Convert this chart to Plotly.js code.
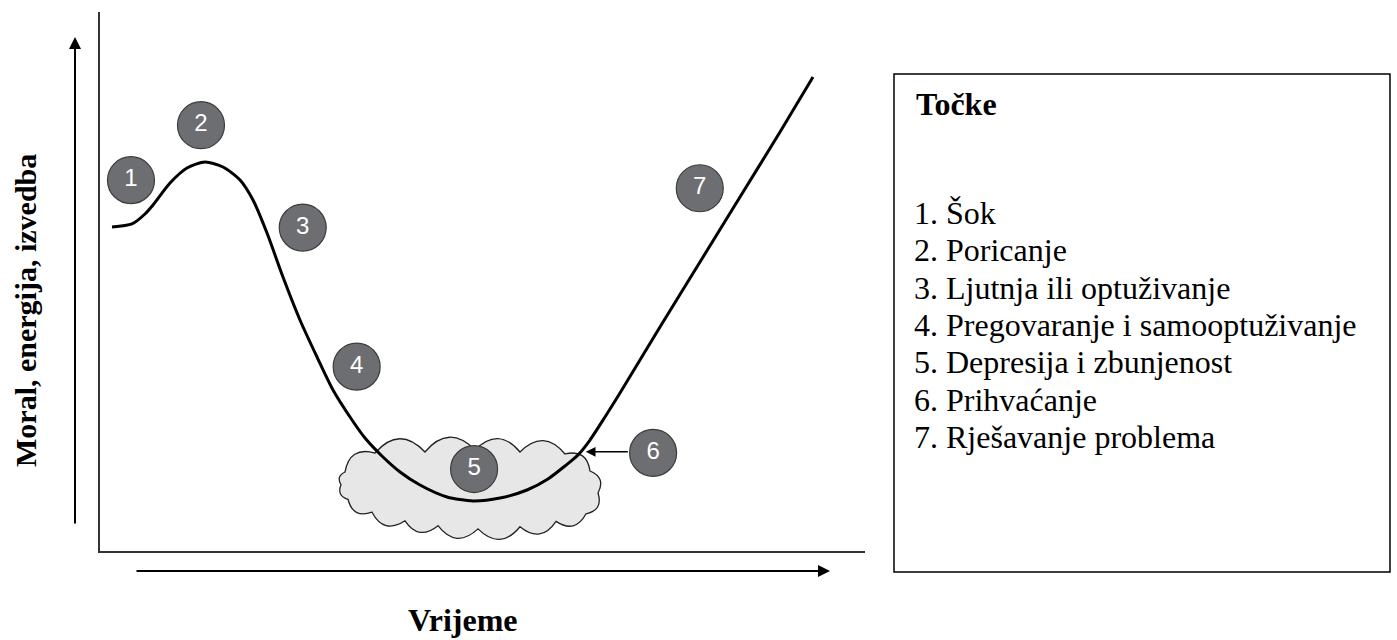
<!DOCTYPE html>
<html>
<head>
<meta charset="utf-8">
<script src="https://cdn.plot.ly/plotly-3.0.1.min.js"></script>
<style>html,body{margin:0;padding:0;background:#fff;}#chart{width:1397px;height:640px;}</style>
</head>
<body>
<div id="chart"></div>
<script>
// ---- Data (time vs. morale, arbitrary units 0-100) ----
const timeX = [1.57, 4.18, 5.88, 6.93, 9.15, 11.37, 13.73, 16.08, 18.30, 20.00, 21.83, 23.92, 26.14, 28.37, 30.46, 32.68, 34.64, 36.99, 39.22, 41.83, 45.36, 48.76, 52.29, 55.82, 58.56, 60.78, 62.48, 64.05, 66.01, 67.97, 73.20, 78.43, 83.66, 88.89, 93.20];
const moraleY = [60.11, 60.67, 62.52, 64.19, 68.27, 71.06, 72.17, 71.24, 68.83, 65.12, 58.99, 50.83, 42.86, 35.99, 29.87, 24.86, 20.96, 17.44, 14.66, 12.24, 10.02, 9.28, 9.83, 11.32, 13.36, 15.77, 17.81, 20.59, 24.86, 29.31, 41.56, 53.62, 65.68, 77.74, 87.94];

const stageLabels = ['1', '2', '3', '4', '5', '6', '7'];
const stageX = [4.05, 13.2, 26.5, 33.55, 48.9, 72.3, 78.4];
const stageY = [68.8, 79.0, 60.0, 34.2, 15.2, 18.2, 67.3];

// arrow from stage 6 marker to the curve
const acceptArrowFrom = [69.2, 18.4];
const acceptArrowTo = [63.5, 18.4];

// cloud outline vertices (around stage 5)
const cloudX = [32.03, 35.95, 42.48, 49.02, 54.90, 60.78, 64.05, 65.10, 63.53, 59.61, 54.90, 49.41, 44.18, 39.87, 35.56, 32.42, 31.50];
const cloudY = [14.66, 18.18, 18.37, 18.74, 18.37, 18.00, 14.84, 10.75, 6.9, 5.5, 4.5, 4.1, 4.7, 5.6, 7.2, 9.6, 12.3];

const xTitle = 'Vrijeme';
const yTitle = 'Moral, energija, izvedba';
const legendTitle = 'Točke';
const legendItems = [
  '1. Šok',
  '2. Poricanje',
  '3. Ljutnja ili optuživanje',
  '4. Pregovaranje i samooptuživanje',
  '5. Depresija i zbunjenost',
  '6. Prihvaćanje',
  '7. Rješavanje problema'
];

// ---- Layout geometry ----
const W = 1397, H = 640;
const xDom = [100 / W, 865 / W];
const yDom = [(H - 551) / H, (H - 12) / H];
const xRange = [0, 100], yRange = [0, 100];
const sx = (xDom[1] - xDom[0]) * W / (xRange[1] - xRange[0]);
const sy = (yDom[1] - yDom[0]) * H / (yRange[1] - yRange[0]);

// Build a scalloped cloud path from the vertex list
function cloudPath() {
  const n = cloudX.length;
  let cxm = 0, cym = 0;
  for (let i = 0; i < n; i++) { cxm += cloudX[i]; cym += cloudY[i]; }
  cxm /= n; cym /= n;
  let d = 'M ' + cloudX[0] + ',' + cloudY[0];
  for (let i = 0; i < n; i++) {
    const j = (i + 1) % n;
    const px = cloudX[i] * sx, py = cloudY[i] * sy;
    const qx = cloudX[j] * sx, qy = cloudY[j] * sy;
    const mx = (px + qx) / 2, my = (py + qy) / 2;
    const dx = qx - px, dy = qy - py;
    const len = Math.hypot(dx, dy);
    let nx = dy / len, ny = -dx / len;
    if (nx * (mx - cxm * sx) + ny * (my - cym * sy) < 0) { nx = -nx; ny = -ny; }
    const k = 0.55 * len;
    const cx = (mx + nx * k) / sx, cy = (my + ny * k) / sy;
    d += ' Q ' + cx.toFixed(3) + ',' + cy.toFixed(3) + ' ' + cloudX[j] + ',' + cloudY[j];
  }
  return d + ' Z';
}

const serif = 'Liberation Serif, Times New Roman, serif';
const sans = 'Liberation Sans, Arial, sans-serif';

const traces = [
  {
    x: timeX, y: moraleY, type: 'scatter', mode: 'lines',
    line: {color: '#000', width: 3, shape: 'spline', smoothing: 0.7},
    hoverinfo: 'skip', cliponaxis: false
  },
  {
    x: stageX, y: stageY, type: 'scatter', mode: 'markers+text',
    text: stageLabels, textposition: 'middle center',
    textfont: {family: sans, size: 24, color: '#ffffff'},
    marker: {size: 47, color: '#6d6e72', line: {color: '#3c3c3c', width: 1.2}},
    hoverinfo: 'skip', cliponaxis: false
  }
];

const annotations = [
  // axis arrows
  {xref: 'paper', yref: 'paper', x: 75 / W, y: 1 - 37 / H, ax: 0, ay: 488,
   text: '', showarrow: true, arrowhead: 2, arrowsize: 1.2, arrowwidth: 2, arrowcolor: '#000'},
  {xref: 'paper', yref: 'paper', x: 830 / W, y: 1 - 571 / H, ax: -695, ay: 0,
   text: '', showarrow: true, arrowhead: 2, arrowsize: 1.2, arrowwidth: 2, arrowcolor: '#000'},
  // stage 6 arrow
  {xref: 'x', yref: 'y', axref: 'x', ayref: 'y',
   x: acceptArrowTo[0], y: acceptArrowTo[1], ax: acceptArrowFrom[0], ay: acceptArrowFrom[1],
   text: '', showarrow: true, arrowhead: 2, arrowsize: 1.3, arrowwidth: 1.5, arrowcolor: '#000'},
  // axis titles
  {xref: 'paper', yref: 'paper', x: 463 / W, y: 1 - 620 / H, xanchor: 'center', yanchor: 'middle',
   text: '<b>' + xTitle + '</b>', showarrow: false, font: {family: serif, size: 32, color: '#000'}},
  {xref: 'paper', yref: 'paper', x: 25 / W, y: 1 - 311 / H, xanchor: 'center', yanchor: 'middle',
   textangle: -90, text: '<b>' + yTitle + '</b>', showarrow: false, font: {family: serif, size: 30, color: '#000'}},
  // legend title
  {xref: 'paper', yref: 'paper', x: 914 / W, y: 1 - 104 / H, xanchor: 'left', yanchor: 'middle',
   text: '<b>' + legendTitle + '</b>', showarrow: false, font: {family: serif, size: 32, color: '#000'}}
];
legendItems.forEach(function (t, i) {
  annotations.push({xref: 'paper', yref: 'paper', x: 912 / W, y: 1 - (213 + 37.3 * i) / H,
    xanchor: 'left', yanchor: 'middle', text: t, showarrow: false,
    font: {family: serif, size: 32, color: '#000'}});
});

const shapes = [
  {type: 'path', xref: 'x', yref: 'y', path: cloudPath(), layer: 'below',
   fillcolor: '#e7e7e7', line: {color: '#222', width: 1.3}},
  {type: 'rect', xref: 'paper', yref: 'paper', x0: 894 / W, x1: 1390 / W, y0: 1 - 572 / H, y1: 1 - 74 / H,
   line: {color: '#000', width: 1.5}, fillcolor: 'rgba(0,0,0,0)'}
];

const layout = {
  width: W, height: H,
  margin: {l: 0, r: 0, t: 0, b: 0},
  paper_bgcolor: '#fff', plot_bgcolor: '#fff',
  showlegend: false,
  xaxis: {domain: xDom, range: xRange, showline: true, linecolor: '#333', linewidth: 2,
          showgrid: false, zeroline: false, showticklabels: false, ticks: '', fixedrange: true},
  yaxis: {domain: yDom, range: yRange, showline: true, linecolor: '#333', linewidth: 2,
          showgrid: false, zeroline: false, showticklabels: false, ticks: '', fixedrange: true},
  annotations: annotations,
  shapes: shapes
};

Plotly.newPlot('chart', traces, layout, {displayModeBar: false, staticPlot: true});
</script>
</body>
</html>
